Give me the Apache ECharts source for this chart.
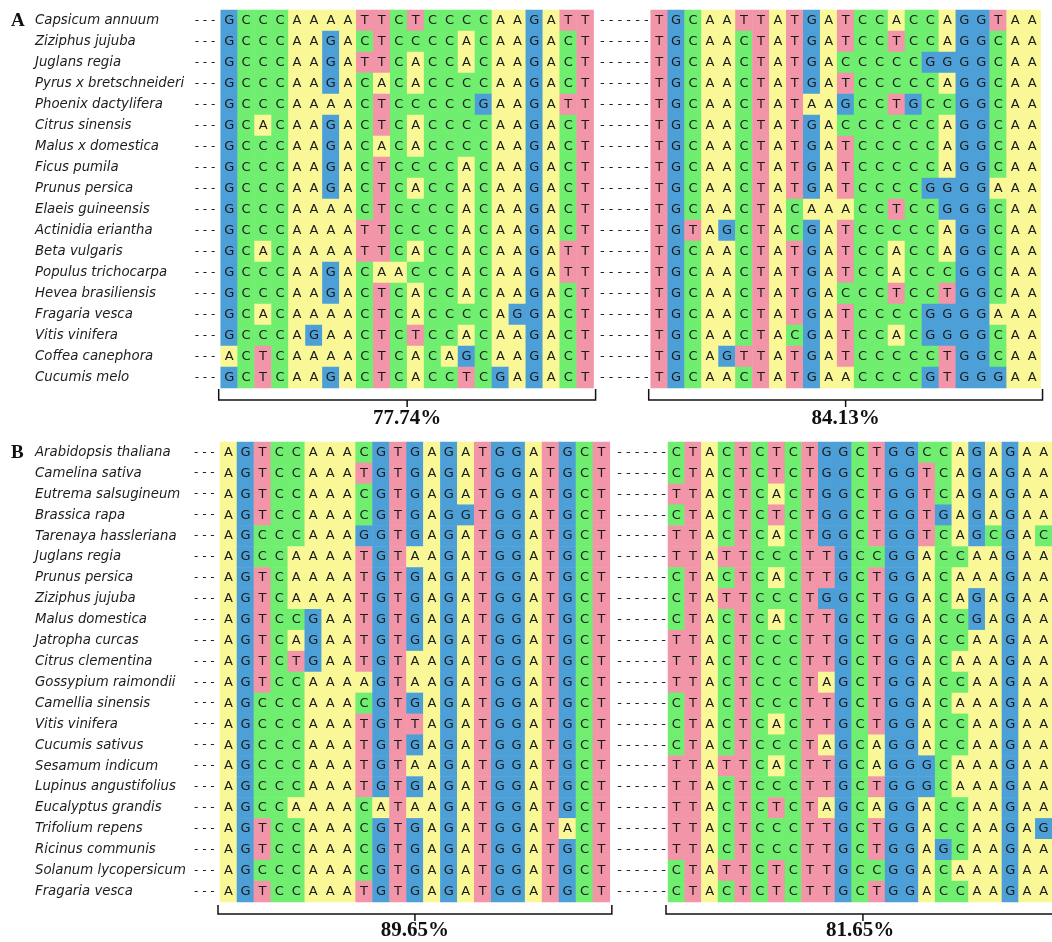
<!DOCTYPE html>
<html style="height: 100%">

<head>
    <meta charset="utf-8">
    <script src="https://cdn.jsdelivr.net/npm/echarts@6/dist/echarts.min.js"></script>
    <title>Alignment</title>
</head>

<body style="height: 100%; margin: 0; background: #fff">
    <div id="container" style="width: 1052px; height: 942px"></div>
    <script type="text/javascript">

        // nucleotide alphabet and background colours
        let letters = ['A', 'C', 'G', 'T'];
        let letterColors = ['#f9f796', '#6fee6f', '#4da0d7', '#f395a9'];

        // panel A
        let speciesA = ['Capsicum annuum', 'Ziziphus jujuba', 'Juglans regia', 'Pyrus x bretschneideri',
            'Phoenix dactylifera', 'Citrus sinensis', 'Malus x domestica', 'Ficus pumila', 'Prunus persica',
            'Elaeis guineensis', 'Actinidia eriantha', 'Beta vulgaris', 'Populus trichocarpa',
            'Hevea brasiliensis', 'Fragaria vesca', 'Vitis vinifera', 'Coffea canephora', 'Cucumis melo'];
        let seqA1 = ['GCCCAAAATTCTCCCCAAGATT', 'GCCCAAGACTCCCCACAAGACT', 'GCCCAAGATTCACCACAAGACT',
            'GCCCAAGACACACCCCAAGACT', 'GCCCAAAACTCCCCCGAAGATT', 'GCACAAGACTCACCCCAAGACT',
            'GCCCAAGACACACCCCAAGACT', 'GCCCAAGACTCCCCACAAGACT', 'GCCCAAGACTCACCACAAGACT',
            'GCCCAAAACTCCCCACAAGACT', 'GCCCAAAATTCCCCACAAGACT', 'GCACAAAATTCACCACAAGATT',
            'GCCCAAGACAACCCACAAGATT', 'GCCCAAGACTCACCACAAGACT', 'GCACAAAACTCACCCCAGGACT',
            'GCCCAGAACTCTCCACAAGACT', 'ACTCAAAACTCACAGCAAGACT', 'GCTCAAGACTCACCTCGAGACT'];
        let seqA2 = ['TGCAATTATGATCCACCAGGTAA', 'TGCAACTATGATCCTCCAGGCAA', 'TGCAACTATGACCCCCGGGGCAA',
            'TGCAACTATGATCCCCCAGGCAA', 'TGCAACTATAAGCCTGCCGGCAA', 'TGCAACTATGACCCCCCAGGCAA',
            'TGCAACTATGATCCCCCAGGCAA', 'TGCAACTATGATCCCCCAGGCAA', 'TGCAACTATGATCCCCGGGGAAA',
            'TGCAACTACAAACCTCCGGGCAA', 'TGTAGCTACGATCCCCCAGGCAA', 'TGCAACTATGATCCACCAGGCAA',
            'TGCAACTATGATCCACCCGGCAA', 'TGCAACTATGACCCTCCTGGCAA', 'TGCAACTATGATCCCCGGGGAAA',
            'TGCAACTACGATCCACGGGGCAA', 'TGCAGTTATGATCCCCCTGGCAA', 'TGCAACTATGAACCCCGTGGGAA'];

        // panel B
        let speciesB = ['Arabidopsis thaliana', 'Camelina sativa', 'Eutrema salsugineum', 'Brassica rapa',
            'Tarenaya hassleriana', 'Juglans regia', 'Prunus persica', 'Ziziphus jujuba', 'Malus domestica',
            'Jatropha curcas', 'Citrus clementina', 'Gossypium raimondii', 'Camellia sinensis', 'Vitis vinifera',
            'Cucumis sativus', 'Sesamum indicum', 'Lupinus angustifolius', 'Eucalyptus grandis',
            'Trifolium repens', 'Ricinus communis', 'Solanum lycopersicum', 'Fragaria vesca'];
        let seqB1 = ['AGTCCAAACGTGAGATGGATGCT', 'AGTCCAAATGTGAGATGGATGCT', 'AGTCCAAACGTGAGATGGATGCT',
            'AGTCCAAACGTGAGGTGGATGCT', 'AGCCCAAAGGTGAGATGGATGCT', 'AGCCAAAATGTAAGATGGATGCT',
            'AGTCAAAATGTGAGATGGATGCT', 'AGTCAAAATGTGAGATGGATGCT', 'AGTCCGAATGTGAGATGGATGCT',
            'AGTCAGAATGTGAGATGGATGCT', 'AGTCTGAATGTAAGATGGATGCT', 'AGTCCAAAAGTAAGATGGATGCT',
            'AGCCCAAACGTGAGATGGATGCT', 'AGCCCAAATGTTAGATGGATGCT', 'AGCCCAAATGTGAGATGGATGCT',
            'AGCCCAAATGTAAGATGGATGCT', 'AGCCCAAATGTGAGATGGATGCT', 'AGCCAAAACATAAGATGGATGCT',
            'AGTCCAAACGTGAGATGGATACT', 'AGTCCAAACGTGAGATGGATGCT', 'AGCCCAAACGTGAGATGGATGCT',
            'AGTCCAAATGTGAGATGGATGCT'];
        let seqB2 = ['CTACTCTCTGGCTGGCCAGAGAA', 'CTACTCTCTGGCTGGTCAGAGAA', 'TTACTCACTGGCTGGTCAGAGAA',
            'CTACTCTCTGGCTGGTGAGAGAA', 'TTACTCACTGGCTGGTCAGCGAC', 'TTATTCCCTTGCCGGACCAAGAA',
            'CTACTCACTTGCTGGACAAAGAA', 'CTATTCCCTGGCTGGACAGAGAA', 'CTACTCACTTGCTGGACCGAGAA',
            'TTACTCCCTTGCTGGACCAAGAA', 'TTACTCCCTTGCTGGACAAAGAA', 'TTACTCCCTAGCTGGACCAAGAA',
            'CTACTCCCTTGCTGGACAAAGAA', 'CTACTCACTTGCTGGACCAAGAA', 'CTACTCCCTAGCAGGACCAAGAA',
            'TTATTCACTTGCAGGGCAAAGAA', 'TTACTCCCTTGCTGGGCAAAGAA', 'TTACTCTCTAGCAGGACCAAGAA',
            'TTACTCCCTTGCTGGACCAAGAG', 'TTACTCCCTTGCTGGAGCAAGAA', 'CTATTCTCTTGCCGGACAAAGAA',
            'CTACTCTCTTGCTGGACCAAGAA'];

        // identity under each block
        let identities = ['77.74%', '84.13%', '89.65%', '81.65%'];
        let panelNames = ['A', 'B'];

        // layout of the four blocks (pixels)
        let colW = 16.95;
        let blocks = [
            { species: speciesA, seqs: seqA1, left: 220.7, top: 10, rowH: 21, gap: 20, tick: 12, first: true },
            { species: speciesA, seqs: seqA2, left: 650.7, top: 10, rowH: 21, gap: 20, tick: 12, first: false },
            { species: speciesB, seqs: seqB1, left: 220, top: 442, rowH: 21, gap: 18, tick: 10, first: true },
            { species: speciesB, seqs: seqB2, left: 668, top: 442, rowH: 21, gap: 18, tick: 10, first: false }
        ];

        let grids = [], xAxes = [], yAxes = [], series = [], graphics = [];

        blocks.forEach((b, i) => {
            let nCol = b.seqs[0].length, nRow = b.species.length;
            let w = nCol * colW, h = nRow * b.rowH;
            grids.push({ left: b.left, top: b.top, width: w, height: h });

            let cells = [];
            b.seqs.forEach((s, r) => {
                for (let c = 0; c < s.length; c++) cells.push([c, r, letters.indexOf(s[c])]);
            });

            xAxes.push({
                type: 'category', gridIndex: i, data: Array.from({ length: nCol }, (v, k) => k),
                axisLine: { show: false }, axisTick: { show: false }, axisLabel: { show: false },
                splitLine: { show: false },
                name: identities[i], nameLocation: 'middle', nameGap: b.gap,
                nameTextStyle: { fontFamily: 'Liberation Serif', fontWeight: 'bold', fontSize: 21, color: '#111' }
            });

            yAxes.push({
                type: 'category', gridIndex: i, data: b.species, inverse: true,
                axisLine: { show: false }, axisTick: { show: false }, splitLine: { show: false },
                axisLabel: b.first ? {
                    align: 'left', margin: b.left - 35,
                    formatter: v => '{n|' + v + '}{d|- - -}',
                    rich: {
                        n: { width: b.left - 35 - 26, fontFamily: 'DejaVu Sans', fontStyle: 'italic', fontSize: 13.3, color: '#1c1c1c' },
                        d: { fontFamily: 'DejaVu Sans', fontSize: 12, color: '#222' }
                    }
                } : {
                    margin: 2, formatter: () => '- - - - - -',
                    fontFamily: 'DejaVu Sans', fontSize: 13, color: '#222'
                }
            });

            series.push({
                type: 'heatmap', xAxisIndex: i, yAxisIndex: i, data: cells,
                label: {
                    show: true, formatter: p => letters[p.value[2]],
                    fontFamily: 'DejaVu Sans', fontSize: 13, color: '#1b1b1b'
                },
                emphasis: { disabled: true }
            });

            // bracket under the block
            let yb = b.top + h + b.tick, x0 = b.left - 2, x1 = b.left + w + 2, xm = (x0 + x1) / 2;
            graphics.push({
                type: 'polyline', silent: true,
                shape: { points: [[x0, yb - b.tick + 1], [x0, yb], [x1, yb], [x1, yb - b.tick + 1]] },
                style: { stroke: '#111', lineWidth: 1.5, fill: null }
            });
            graphics.push({
                type: 'line', silent: true,
                shape: { x1: xm, y1: yb, x2: xm, y2: yb + 7 },
                style: { stroke: '#111', lineWidth: 1.5 }
            });
        });

        // panel letters
        panelNames.forEach((p, k) => {
            let b = blocks[k * 2];
            graphics.push({
                type: 'text', left: 11, top: b.top + 2,
                style: { text: p, font: 'bold 19px "Liberation Serif"', fill: '#111' }
            });
        });

        let dom = document.getElementById("container");
        let chart = echarts.init(dom);
        chart.setOption({
            animation: false,
            grid: grids,
            xAxis: xAxes,
            yAxis: yAxes,
            visualMap: {
                type: 'piecewise', show: false, dimension: 2, seriesIndex: [0, 1, 2, 3],
                pieces: letters.map((l, k) => ({ value: k, color: letterColors[k] }))
            },
            series: series,
            graphic: graphics
        });

    </script>
</body>

</html>
